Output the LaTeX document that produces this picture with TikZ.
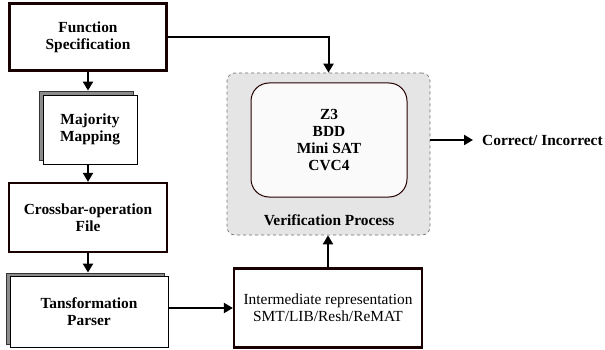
\documentclass[tikz,border=0pt]{standalone}
\usepackage{fontspec}
\setmainfont{Liberation Serif}
\usetikzlibrary{arrows.meta,calc}
\begin{document}
\begin{tikzpicture}[x=1pt,y=-1pt,
  every node/.style={font=\fontsize{15.4}{17}\selectfont, align=center},
  thickbox/.style={draw=black!90!red, line width=2.2pt, fill=white, minimum width=#1, inner sep=0pt},
  docfront/.style={draw=black, line width=0.8pt, fill=white, inner sep=0pt},
  docback/.style={draw=black!80, line width=0.8pt, fill=black!45, inner sep=0pt},
  arr/.style={line width=2pt, -{Triangle[length=9pt,width=10pt]}},
]
\useasboundingbox (0,0) rectangle (605,350);
% Function Specification
\node[thickbox=157pt, minimum height=67pt] (FS) at (88,37) {\bfseries Function\\\bfseries Specification};
% Majority Mapping (stacked)
\node[docback, minimum width=94pt, minimum height=69pt] (MMb) at (86,125.5) {};
\node[docfront, minimum width=94pt, minimum height=69pt] (MM) at (90,129.5) {\bfseries Majority\\\bfseries Mapping};
% Crossbar
\node[thickbox=158pt, minimum height=69pt] (CB) at (88,217.5) {\bfseries Crossbar-operation\\\bfseries File};
% Transformation parser (stacked)
\node[docback, minimum width=158pt, minimum height=71pt] (TPb) at (85,308.5) {};
\node[docfront, minimum width=158pt, minimum height=71pt] (TP) at (89,311.5) {\bfseries Tansformation\\\bfseries Parser};
% Intermediate representation
\node[thickbox=188pt, minimum height=79pt] (IR) at (328,308) {Intermediate representation\\SMT/LIB/Resh/ReMAT};
% Verification process
\node[draw=black!55, dashed, line width=0.7pt, fill=black!10, rounded corners=8pt,
      minimum width=203pt, minimum height=162pt, inner sep=0pt] (VP) at (328.5,154) {};
\node[draw=black!85!red, line width=1pt, fill=black!2, rounded corners=18pt,
      minimum width=156pt, minimum height=114pt, inner sep=0pt] (IN) at (329,140)
      {\bfseries Z3\\\bfseries BDD\\\bfseries Mini SAT\\\bfseries CVC4};
\node[anchor=center] (VPL) at (329,220) {\bfseries Verification Process};
% Output label
\node[anchor=west, inner sep=0pt] (OUT) at (482,140) {\bfseries Correct/ Incorrect};
% connectors
\draw[arr] (FS.south) -- (FS.south |- MMb.north);
\draw[arr] (MM.south -| CB.north) -- (CB.north);
\draw[arr] (CB.south) -- (CB.south |- TPb.north);
\draw[arr] (IR.west -| TP.east) -- (IR.west);
\draw[arr] (IR.north) -- (IR.north |- VP.south);
\draw[arr] (FS.east) -| (VP.north);
\draw[arr] (VP.east |- OUT.west) -- ([xshift=-9pt]OUT.west);
\end{tikzpicture}
\end{document}
